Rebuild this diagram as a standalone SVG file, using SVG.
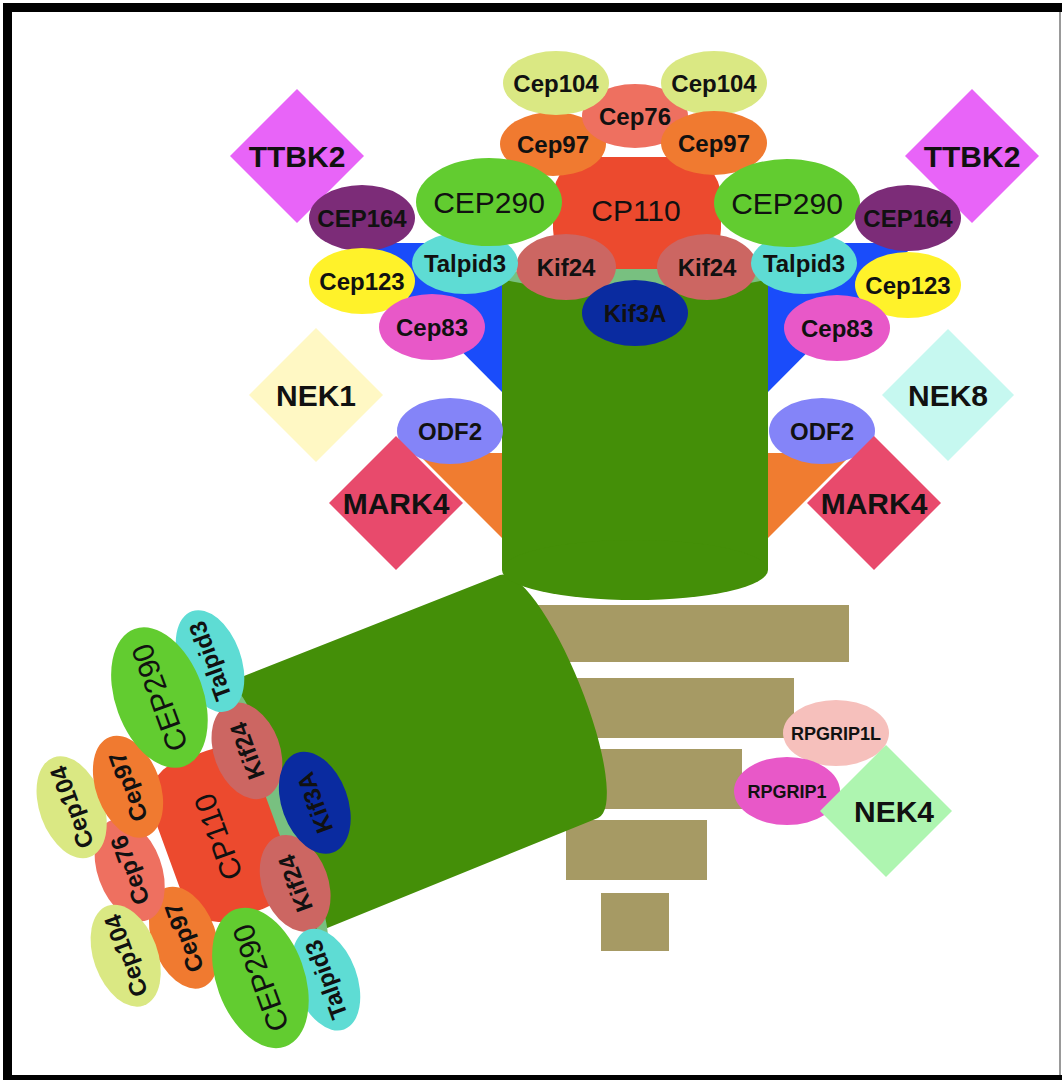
<svg xmlns="http://www.w3.org/2000/svg" width="1062" height="1080" viewBox="0 0 1062 1080">
  <style>
    text { font-family: "Liberation Sans", Arial, sans-serif; text-anchor: middle; fill: #111; }
    .s { font-size: 24px; font-weight: bold; }
    .b { font-size: 30px; }
    .d { font-size: 30px; font-weight: bold; }
    .r { font-size: 18px; font-weight: bold; }
    .c104 { fill: #dae883; }
    .c76 { fill: #ee7060; }
    .c97 { fill: #f07a30; }
    .cp110 { fill: #ec4a2e; }
    .c290 { fill: #62cc30; }
    .c164 { fill: #7c2c78; }
    .ttbk { fill: #e864f8; }
    .tal { fill: #5edcd4; }
    .kif24 { fill: #cc6662; }
    .kif3a { fill: #0a2ba0; }
    .c123 { fill: #fff22a; }
    .c83 { fill: #e858c8; }
    .odf2 { fill: #8484f8; }
    .mark4 { fill: #e84a6c; }
    .tube { fill: #448f08; }
    .cap { fill: #78c080; }
    .bar { fill: #a69a64; }
  </style>

  <!-- frame -->
  <rect x="0" y="0" width="1062" height="1080" fill="#ffffff"/>
  <rect x="3" y="3" width="1059" height="1077" fill="#000000"/>
  <rect x="12" y="12" width="1050" height="1063" fill="#ffffff"/>
  <line x1="1060" y1="12" x2="1060" y2="1075" stroke="#777777" stroke-width="1.5"/>

  <!-- wedges behind the upper tube -->
  <g id="wedges">
    <polygon points="354,243 502,243 502,392" fill="#1a4cfa"/>
    <polygon points="916,243 768,243 768,392" fill="#1a4cfa"/>
    <polygon points="417,453 502,453 502,538" fill="#f07c30"/>
    <polygon points="853,453 768,453 768,538" fill="#f07c30"/>
  </g>

  <!-- transition-zone bars -->
  <g id="bars">
    <rect class="bar" x="530" y="605" width="319" height="57"/>
    <rect class="bar" x="565" y="678" width="229" height="60"/>
    <rect class="bar" x="585" y="749" width="157" height="60"/>
    <rect class="bar" x="566" y="820" width="141" height="60"/>
    <rect class="bar" x="601" y="893" width="68" height="58"/>
  </g>

  <!-- lower (tilted) tube -->
  <g id="lower-tube">
    <path class="tube" d="M 500 575 A 131 33 68 0 1 598 818 L 315 933 L 216 687 Z"/>
  </g>

  <!-- upper tube -->
  <g id="upper-tube">
    <rect class="tube" x="502" y="277" width="266" height="293"/>
    <ellipse class="tube" cx="635" cy="570" rx="133" ry="30"/>
    <ellipse class="cap" cx="635" cy="277" rx="133" ry="12"/>
  </g>

  <!-- upper tip complex -->
  <g id="cp110"><rect class="cp110" x="553" y="157" width="168" height="112" rx="40"/><text class="b" x="636" y="221">CP110</text></g>
  <g id="cep97-l"><ellipse class="c97" cx="553" cy="144" rx="53" ry="32"/><text class="s" x="553" y="152.5">Cep97</text></g>
  <g id="cep76"><ellipse class="c76" cx="635" cy="116" rx="53" ry="32"/><text class="s" x="635" y="124.5">Cep76</text></g>
  <g id="cep104-l"><ellipse class="c104" cx="556" cy="83" rx="53" ry="32"/><text class="s" x="556" y="91.5">Cep104</text></g>
  <g id="cep104-r"><ellipse class="c104" cx="714" cy="83" rx="53" ry="32"/><text class="s" x="714" y="91.5">Cep104</text></g>
  <g id="cep97-r"><ellipse class="c97" cx="714" cy="143" rx="53" ry="32"/><text class="s" x="714" y="151.5">Cep97</text></g>
  <g id="kif24-l"><ellipse class="kif24" cx="566" cy="267" rx="50" ry="33"/><text class="s" x="566" y="275.5">Kif24</text></g>
  <g id="kif24-r"><ellipse class="kif24" cx="707" cy="267" rx="50" ry="33"/><text class="s" x="707" y="275.5">Kif24</text></g>
  <g id="kif3a"><ellipse class="kif3a" cx="635" cy="313" rx="53" ry="33"/><text class="s" x="635" y="321.5">Kif3A</text></g>
  <g id="talpid3-l"><ellipse class="tal" cx="465" cy="263" rx="53" ry="31"/><text class="s" x="465" y="271.5">Talpid3</text></g>
  <g id="talpid3-r"><ellipse class="tal" cx="804" cy="263" rx="53" ry="31"/><text class="s" x="804" y="271.5">Talpid3</text></g>
  <g id="cep290-l"><ellipse class="c290" cx="489" cy="202" rx="73" ry="44"/><text class="b" x="489" y="212.5">CEP290</text></g>
  <g id="cep290-r"><ellipse class="c290" cx="787" cy="203" rx="73" ry="44"/><text class="b" x="787" y="213.5">CEP290</text></g>

  <!-- distal appendage side, left -->
  <g id="ttbk2-l"><polygon class="ttbk" points="297,89 364,156 297,223 230,156"/><text class="d" x="297" y="167">TTBK2</text></g>
  <g id="cep164-l"><ellipse class="c164" cx="362" cy="218" rx="53" ry="33"/><text class="s" x="362" y="226.5">CEP164</text></g>
  <g id="cep123-l"><ellipse class="c123" cx="362" cy="281" rx="53" ry="33"/><text class="s" x="362" y="289.5">Cep123</text></g>
  <g id="cep83-l"><ellipse class="c83" cx="432" cy="327" rx="53" ry="33"/><text class="s" x="432" y="335.5">Cep83</text></g>
  <g id="nek1"><polygon fill="#fff8c4" points="316,328 383,395 316,462 249,395"/><text class="d" x="316" y="405.5">NEK1</text></g>
  <g id="odf2-l"><ellipse class="odf2" cx="450" cy="431" rx="53" ry="33"/><text class="s" x="450" y="439.5">ODF2</text></g>
  <g id="mark4-l"><polygon class="mark4" points="396,436 463,503 396,570 329,503"/><text class="d" x="396" y="513.5">MARK4</text></g>

  <!-- distal appendage side, right -->
  <g id="ttbk2-r"><polygon class="ttbk" points="972,89 1039,156 972,223 905,156"/><text class="d" x="972" y="167">TTBK2</text></g>
  <g id="cep164-r"><ellipse class="c164" cx="908" cy="218" rx="53" ry="33"/><text class="s" x="908" y="226.5">CEP164</text></g>
  <g id="cep123-r"><ellipse class="c123" cx="908" cy="285" rx="53" ry="33"/><text class="s" x="908" y="293.5">Cep123</text></g>
  <g id="cep83-r"><ellipse class="c83" cx="837" cy="328" rx="53" ry="33"/><text class="s" x="837" y="336.5">Cep83</text></g>
  <g id="nek8"><polygon fill="#c6f8f0" points="948,329 1014,395 948,461 882,395"/><text class="d" x="948" y="405.5">NEK8</text></g>
  <g id="odf2-r"><ellipse class="odf2" cx="822" cy="431" rx="53" ry="33"/><text class="s" x="822" y="439.5">ODF2</text></g>
  <g id="mark4-r"><polygon class="mark4" points="874,436 941,503 874,570 807,503"/><text class="d" x="874" y="513.5">MARK4</text></g>

  <!-- lower tip complex, same layout turned to follow the tilted tube -->
  <g id="lower-cluster" transform="translate(218 838) rotate(-110) translate(-635 -210)">
    <ellipse class="cap" cx="635" cy="277" rx="133" ry="12"/>
    <g id="lo-cp110"><rect class="cp110" x="553" y="157" width="168" height="112" rx="40"/><text class="b" x="636" y="221">CP110</text></g>
    <g id="lo-cep97-a"><ellipse class="c97" cx="553" cy="144" rx="53" ry="32"/><text class="s" x="553" y="152.5">Cep97</text></g>
    <g id="lo-cep76"><ellipse class="c76" cx="635" cy="116" rx="53" ry="32"/><text class="s" x="635" y="124.5">Cep76</text></g>
    <g id="lo-cep104-a"><ellipse class="c104" cx="556" cy="83" rx="53" ry="32"/><text class="s" x="556" y="91.5">Cep104</text></g>
    <g id="lo-cep104-b"><ellipse class="c104" cx="714" cy="83" rx="53" ry="32"/><text class="s" x="714" y="91.5">Cep104</text></g>
    <g id="lo-cep97-b"><ellipse class="c97" cx="714" cy="143" rx="53" ry="32"/><text class="s" x="714" y="151.5">Cep97</text></g>
    <g id="lo-kif24-a"><ellipse class="kif24" cx="566" cy="267" rx="50" ry="33"/><text class="s" x="566" y="275.5">Kif24</text></g>
    <g id="lo-kif24-b"><ellipse class="kif24" cx="707" cy="267" rx="50" ry="33"/><text class="s" x="707" y="275.5">Kif24</text></g>
    <g id="lo-kif3a"><ellipse class="kif3a" cx="635" cy="313" rx="53" ry="33"/><text class="s" x="635" y="321.5">Kif3A</text></g>
    <g id="lo-talpid3-a"><ellipse class="tal" cx="465" cy="263" rx="53" ry="31"/><text class="s" x="465" y="271.5">Talpid3</text></g>
    <g id="lo-talpid3-b"><ellipse class="tal" cx="804" cy="263" rx="53" ry="31"/><text class="s" x="804" y="271.5">Talpid3</text></g>
    <g id="lo-cep290-a"><ellipse class="c290" cx="489" cy="202" rx="73" ry="44"/><text class="b" x="489" y="212.5">CEP290</text></g>
    <g id="lo-cep290-b"><ellipse class="c290" cx="787" cy="203" rx="73" ry="44"/><text class="b" x="787" y="213.5">CEP290</text></g>
  </g>

  <!-- transition-zone proteins -->
  <g id="rpgrip1l"><ellipse fill="#f6c0bc" cx="836" cy="733" rx="53" ry="33"/><text class="r" x="836" y="739.5">RPGRIP1L</text></g>
  <g id="rpgrip1"><ellipse fill="#e858c8" cx="787" cy="791" rx="53" ry="34"/><text class="r" x="787" y="797.5">RPGRIP1</text></g>
  <g id="nek4"><polygon fill="#aef5b0" points="886,745 952,811 886,877 820,811"/><text class="d" x="894" y="822">NEK4</text></g>
</svg>
